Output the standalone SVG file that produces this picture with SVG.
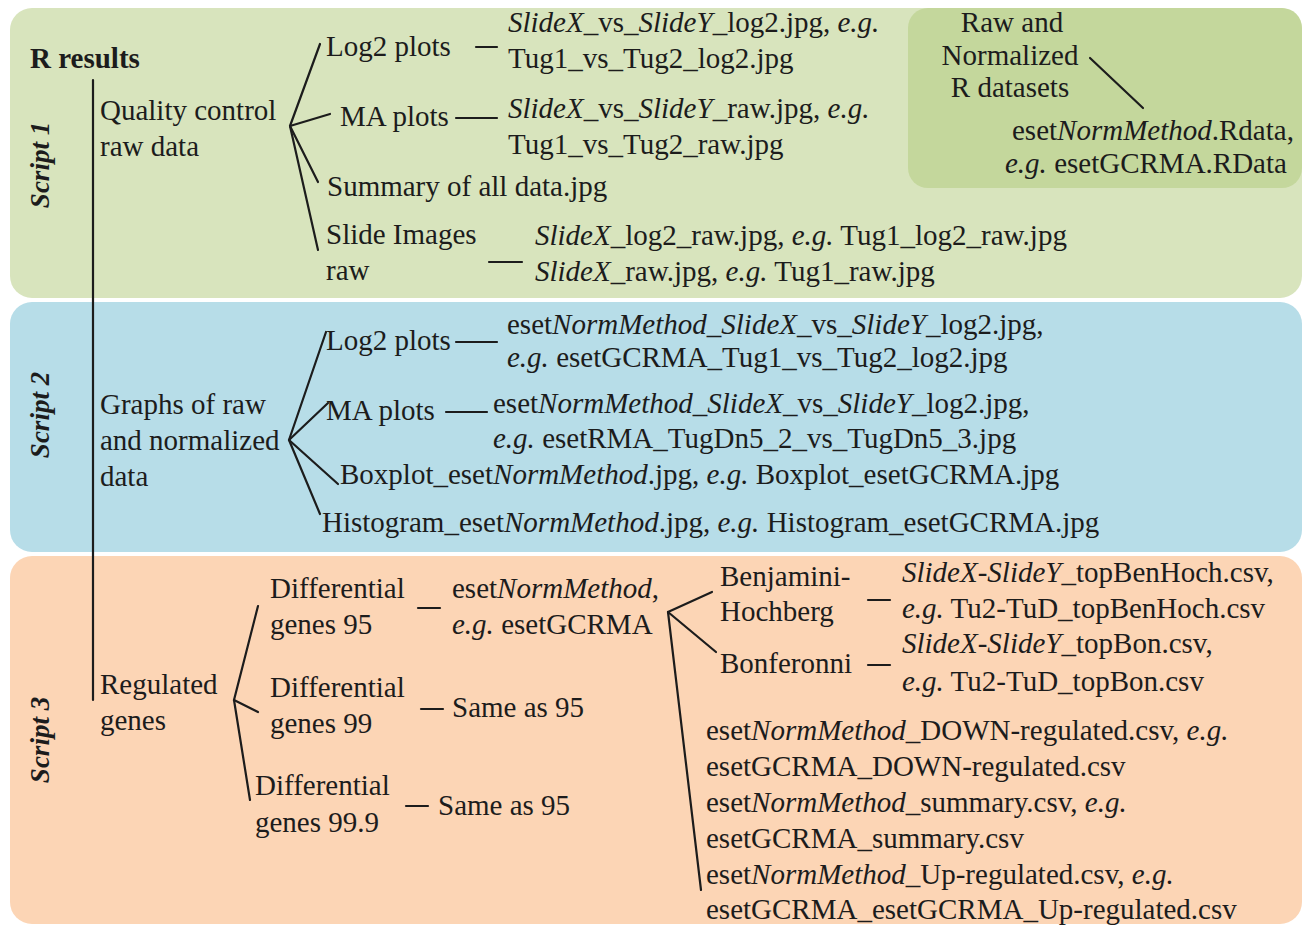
<svg xmlns="http://www.w3.org/2000/svg" width="1304" height="926" viewBox="0 0 1304 926">
<style>
text{font-family:"Liberation Serif","Times New Roman",Times,Tinos,"Nimbus Roman","Nimbus Roman No9 L",FreeSerif,"Noto Serif","DejaVu Serif",serif;font-size:29px;fill:#1c1c1c}
.i{font-style:italic}
.b{font-weight:bold}
.s{font-weight:bold;font-style:italic;font-size:27px}
.ln{stroke:#1c1c1c;stroke-width:2.2;fill:none;stroke-linecap:round}
</style>
<g id="panels">
<rect id="panel1" x="10" y="8" width="1292" height="290" rx="22" fill="#d8e4bd"/>
<rect id="panel1b" x="908" y="8" width="394" height="180" rx="20" fill="#c4d79c"/>
<rect id="panel2" x="10" y="302" width="1292" height="250" rx="22" fill="#b7dde8"/>
<rect id="panel3" x="10" y="556" width="1292" height="368" rx="22" fill="#fcd5b5"/>
</g>
<g id="connectors" class="ln">
<line x1="93" y1="80" x2="93" y2="700"/>
<line x1="290" y1="126" x2="320" y2="44"/>
<line x1="290" y1="126" x2="330" y2="114"/>
<line x1="290" y1="126" x2="318" y2="182"/>
<line x1="290" y1="126" x2="318" y2="250"/>
<line x1="476" y1="47" x2="497" y2="47"/>
<line x1="456" y1="118" x2="497" y2="118"/>
<line x1="489" y1="262" x2="522" y2="262"/>
<line x1="1090" y1="58" x2="1143" y2="108"/>
<line x1="289" y1="440" x2="326" y2="332"/>
<line x1="289" y1="440" x2="328" y2="403"/>
<line x1="289" y1="440" x2="338" y2="484"/>
<line x1="289" y1="440" x2="320" y2="514"/>
<line x1="456" y1="342" x2="497" y2="342"/>
<line x1="446" y1="412" x2="487" y2="412"/>
<line x1="234" y1="700" x2="258" y2="606"/>
<line x1="234" y1="700" x2="258" y2="712"/>
<line x1="234" y1="700" x2="250" y2="800"/>
<line x1="418" y1="608" x2="440" y2="608"/>
<line x1="421" y1="709" x2="443" y2="709"/>
<line x1="406" y1="806" x2="428" y2="806"/>
<line x1="668" y1="612" x2="712" y2="592"/>
<line x1="668" y1="612" x2="716" y2="652"/>
<line x1="668" y1="612" x2="701" y2="890"/>
<line x1="868" y1="600" x2="890" y2="600"/>
<line x1="868" y1="665" x2="890" y2="665"/>
</g>
<g id="labels">
<text class="s" transform="translate(49,165) rotate(-90)" text-anchor="middle">Script 1</text>
<text class="s" transform="translate(49,415) rotate(-90)" text-anchor="middle">Script 2</text>
<text class="s" transform="translate(49,740) rotate(-90)" text-anchor="middle">Script 3</text>
</g>
<g id="root"><text class="b" x="30" y="68">R results</text></g>
<g id="qc"><text x="100" y="120">Quality control</text><text x="100" y="156">raw data</text></g>
<g id="qc-log2"><text x="326" y="56">Log2 plots</text></g>
<g id="qc-log2-files"><text x="508" y="32"><tspan class="i">SlideX</tspan>_vs_<tspan class="i">SlideY</tspan>_log2.jpg, <tspan class="i">e.g.</tspan></text><text x="508" y="68">Tug1_vs_Tug2_log2.jpg</text></g>
<g id="qc-ma"><text x="340" y="126">MA plots</text></g>
<g id="qc-ma-files"><text x="508" y="118"><tspan class="i">SlideX</tspan>_vs_<tspan class="i">SlideY</tspan>_raw.jpg, <tspan class="i">e.g.</tspan></text><text x="508" y="154">Tug1_vs_Tug2_raw.jpg</text></g>
<g id="qc-summary"><text x="327" y="196">Summary of all data.jpg</text></g>
<g id="qc-slide"><text x="326" y="244">Slide Images</text><text x="326" y="280">raw</text></g>
<g id="qc-slide-files"><text x="535" y="245"><tspan class="i">SlideX</tspan>_log2_raw.jpg, <tspan class="i">e.g.</tspan> Tug1_log2_raw.jpg</text><text x="535" y="281"><tspan class="i">SlideX</tspan>_raw.jpg, <tspan class="i">e.g.</tspan> Tug1_raw.jpg</text></g>
<g id="rdata"><text x="1012" y="32" text-anchor="middle">Raw and</text><text x="1010" y="65" text-anchor="middle">Normalized</text><text x="1010" y="97" text-anchor="middle">R datasets</text></g>
<g id="rdata-files"><text x="1012" y="140">eset<tspan class="i">NormMethod</tspan>.Rdata,</text><text x="1005" y="173"><tspan class="i">e.g.</tspan> esetGCRMA.RData</text></g>
<g id="graphs"><text x="100" y="414">Graphs of raw</text><text x="100" y="450">and normalized</text><text x="100" y="486">data</text></g>
<g id="g-log2"><text x="326" y="350">Log2 plots</text></g>
<g id="g-log2-files"><text x="507" y="334">eset<tspan class="i">NormMethod</tspan>_<tspan class="i">SlideX</tspan>_vs_<tspan class="i">SlideY</tspan>_log2.jpg,</text><text x="507" y="367"><tspan class="i">e.g.</tspan> esetGCRMA_Tug1_vs_Tug2_log2.jpg</text></g>
<g id="g-ma"><text x="326" y="420">MA plots</text></g>
<g id="g-ma-files"><text x="493" y="413">eset<tspan class="i">NormMethod</tspan>_<tspan class="i">SlideX</tspan>_vs_<tspan class="i">SlideY</tspan>_log2.jpg,</text><text x="493" y="448"><tspan class="i">e.g.</tspan> esetRMA_TugDn5_2_vs_TugDn5_3.jpg</text></g>
<g id="g-box"><text x="340" y="484">Boxplot_eset<tspan class="i">NormMethod</tspan>.jpg, <tspan class="i">e.g.</tspan> Boxplot_esetGCRMA.jpg</text></g>
<g id="g-hist"><text x="322" y="532">Histogram_eset<tspan class="i">NormMethod</tspan>.jpg, <tspan class="i">e.g.</tspan> Histogram_esetGCRMA.jpg</text></g>
<g id="regulated"><text x="100" y="694">Regulated</text><text x="100" y="730">genes</text></g>
<g id="diff95"><text x="270" y="598">Differential</text><text x="270" y="634">genes 95</text></g>
<g id="diff95-files"><text x="452" y="598">eset<tspan class="i">NormMethod</tspan>,</text><text x="452" y="634"><tspan class="i">e.g.</tspan> esetGCRMA</text></g>
<g id="diff99"><text x="270" y="697">Differential</text><text x="270" y="733">genes 99</text></g>
<g id="diff99-same"><text x="452" y="717">Same as 95</text></g>
<g id="diff999"><text x="255" y="795">Differential</text><text x="255" y="832">genes 99.9</text></g>
<g id="diff999-same"><text x="438" y="815">Same as 95</text></g>
<g id="benhoch"><text x="720" y="586">Benjamini-</text><text x="720" y="621">Hochberg</text></g>
<g id="benhoch-files"><text x="902" y="582"><tspan class="i">SlideX-SlideY</tspan>_topBenHoch.csv,</text><text x="902" y="618"><tspan class="i">e.g.</tspan> Tu2-TuD_topBenHoch.csv</text></g>
<g id="bonf"><text x="720" y="673">Bonferonni</text></g>
<g id="bonf-files"><text x="902" y="653"><tspan class="i">SlideX-SlideY</tspan>_topBon.csv,</text><text x="902" y="691"><tspan class="i">e.g.</tspan> Tu2-TuD_topBon.csv</text></g>
<g id="csv-files">
<text x="706" y="740">eset<tspan class="i">NormMethod</tspan>_DOWN-regulated.csv, <tspan class="i">e.g.</tspan></text>
<text x="706" y="776">esetGCRMA_DOWN-regulated.csv</text>
<text x="706" y="812">eset<tspan class="i">NormMethod</tspan>_summary.csv, <tspan class="i">e.g.</tspan></text>
<text x="706" y="848">esetGCRMA_summary.csv</text>
<text x="706" y="884">eset<tspan class="i">NormMethod</tspan>_Up-regulated.csv, <tspan class="i">e.g.</tspan></text>
<text x="706" y="919">esetGCRMA_esetGCRMA_Up-regulated.csv</text>
</g>
</svg>
